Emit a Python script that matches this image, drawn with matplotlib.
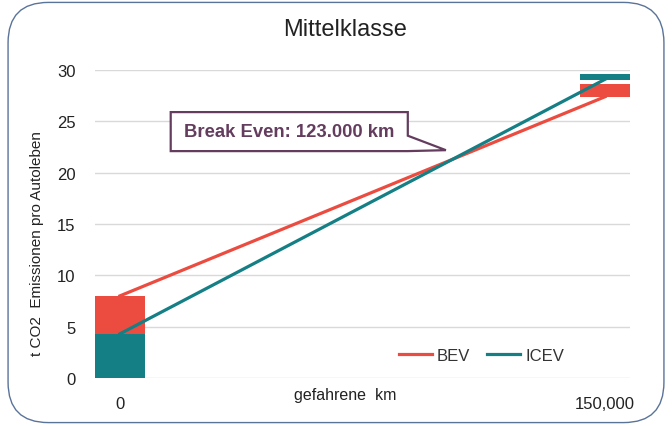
import matplotlib
matplotlib.use('Agg')
import matplotlib.pyplot as plt
from matplotlib.patches import FancyBboxPatch, Polygon
import numpy as np

plt.rcParams['font.family'] = ['Liberation Sans', 'DejaVu Sans']

# Daten
km = [0, 150000]
km_labels = ['0', '150,000']
bev_line = [8.0, 27.4]
icev_line = [4.3, 29.1]
# Balken (Unterkante, Höhe)
bev_bottom = [0.0, 27.4]
bev_height = [8.0, 1.2]
icev_bottom = [0.0, 29.05]
icev_height = [4.3, 0.55]

red = '#EC4C40'
teal = '#147F85'
purple = '#633C5E'

fig = plt.figure(figsize=(6.72, 4.27), dpi=100)
ax = fig.add_axes([0.1414, 0.1124, 0.7961, 0.7213])

# Rahmen mit runden Ecken
frame = FancyBboxPatch((0.012, 0.008), 0.976, 0.984,
                       boxstyle='round,pad=0,rounding_size=0.06',
                       transform=fig.transFigure, fill=False,
                       edgecolor='#5A7399', linewidth=1.0,
                       mutation_aspect=672 / 427)
fig.patches.append(frame)

bar_w = 15400
ax.bar(km, bev_height, bottom=bev_bottom, width=bar_w, color=red, zorder=2)
ax.bar(km, icev_height, bottom=icev_bottom, width=bar_w, color=teal, zorder=2)

ax.plot(km, bev_line, color=red, linewidth=2.3, label='BEV', zorder=3)
ax.plot(km, icev_line, color=teal, linewidth=2.3, label='ICEV', zorder=3)

ax.set_xlim(-7700, 157700)
ax.set_ylim(0, 30)
ax.set_yticks(np.arange(0, 31, 5))
ax.set_xticks(km)
ax.set_xticklabels(km_labels)
ax.grid(axis='y', color='#D9D9D9', linewidth=1.0, zorder=0)
ax.set_axisbelow(True)
for s in ax.spines.values():
    s.set_visible(False)
ax.tick_params(axis='both', length=0, labelsize=12, colors='#222222')
ax.tick_params(axis='x', pad=13)
ax.tick_params(axis='y', pad=14)

ax.set_ylabel('t CO2  Emissionen pro Autoleben', fontsize=11, color='#222222')
ax.yaxis.set_label_coords(-0.095, 0.44)
ax.text(0.467, -0.055, 'gefahrene  km', transform=ax.transAxes,
        ha='center', va='center', fontsize=11.5, color='#222222')

fig.text(0.513, 0.93, 'Mittelklasse', ha='center', va='center',
         fontsize=17, color='#222222')

ax.legend(loc='lower right', bbox_to_anchor=(0.905, 0.0), ncol=2,
          frameon=False, fontsize=12, handlelength=2.0, columnspacing=1.0,
          handletextpad=0.3, labelcolor='#333333')

# Break-Even Callout
sb = (bev_line[1] - bev_line[0]) / (km[1] - km[0])
si = (icev_line[1] - icev_line[0]) / (km[1] - km[0])
x_be = (bev_line[0] - icev_line[0]) / (si - sb)
y_be = bev_line[0] + sb * x_be
x0, x1 = 15700, 89000
y0, y1 = 22.1, 25.9
callout = Polygon([(x0, y0), (x0, y1), (x1, y1), (x1, 23.6),
                   (x_be - 2000, y_be + 0.9), (x1, y0)],
                  closed=True, facecolor='white', edgecolor=purple,
                  linewidth=1.6, zorder=4)
ax.add_patch(callout)
ax.text((x0 + x1) / 2, (y0 + y1) / 2, 'Break Even: 123.000 km',
        ha='center', va='center', fontsize=13.3, fontweight='bold',
        color=purple, zorder=5)

fig.savefig('out.png', dpi=100)
